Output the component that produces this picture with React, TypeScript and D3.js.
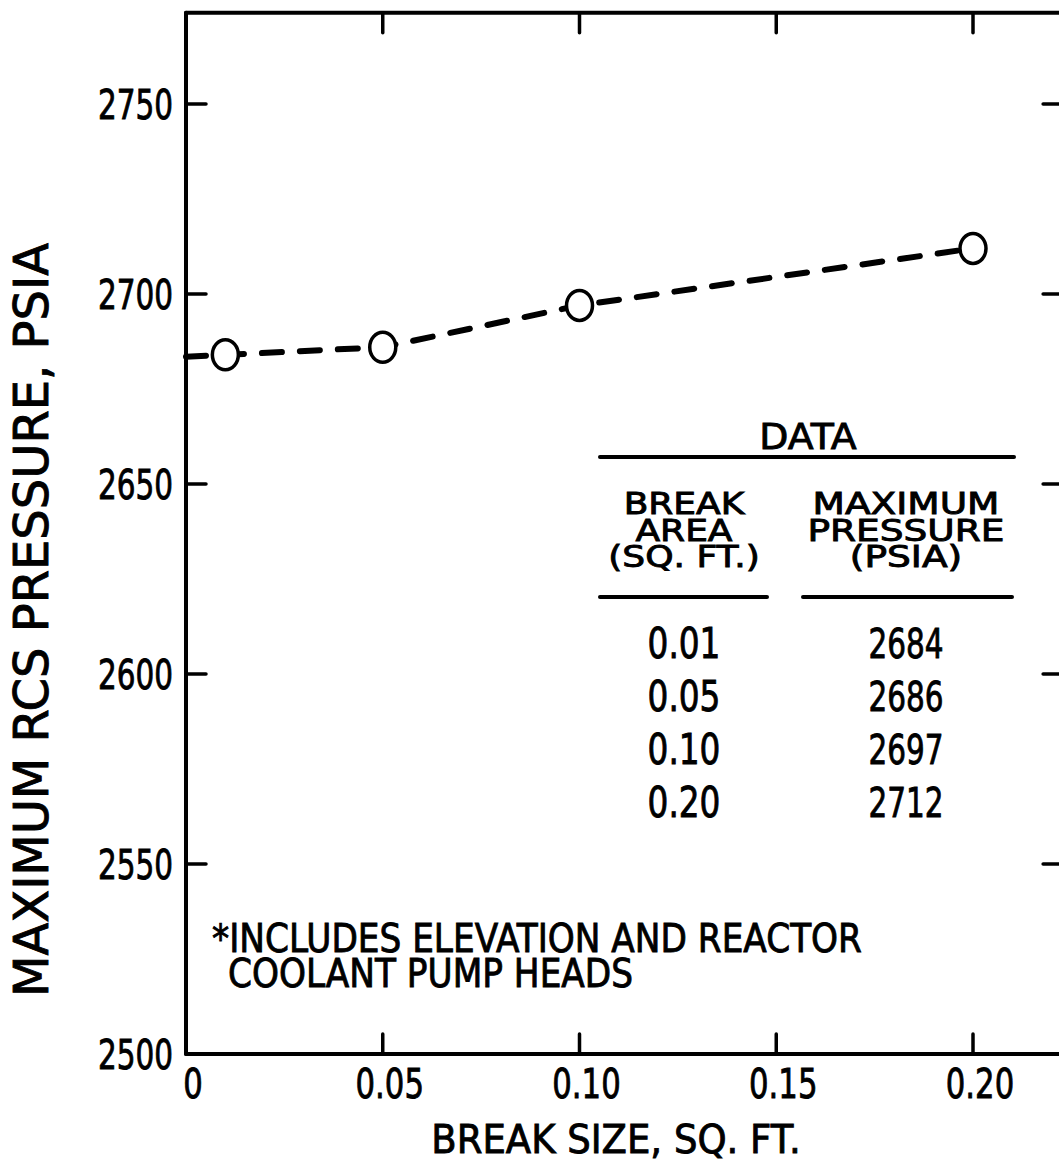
import React from 'react';
import * as d3 from 'd3';

// values from the DATA table
const breakArea = [0.01, 0.05, 0.1, 0.2];
const maxPressure = [2684, 2686, 2697, 2712];
const areaLabels = ['0.01', '0.05', '0.10', '0.20'];

// dashed curve, starting at the left axis
const curveArea = [0, 0.01, 0.05, 0.1, 0.2];
const curvePressure = [2683.5, 2684, 2686, 2697, 2712];

const xTicks = [0, 0.05, 0.1, 0.15, 0.2];
const xTickLabels = ['0', '0.05', '0.10', '0.15', '0.20'];
const yTicks = [2500, 2550, 2600, 2650, 2700, 2750];

const headerArea = ['BREAK', 'AREA', '(SQ. FT.)'];
const headerPressure = ['MAXIMUM', 'PRESSURE', '(PSIA)'];
const noteLines = ['*INCLUDES ELEVATION AND REACTOR', 'COOLANT PUMP HEADS'];

const W = 1059;
const H = 1166;
const FONT = "'DejaVu Sans', sans-serif";

type LabelProps = {
  x: number;
  y: number;
  size: number;
  sx?: number;
  anchor?: 'start' | 'middle' | 'end';
  rotate?: number;
  children: React.ReactNode;
};

// lettering on the original is tall and narrow, so squeeze horizontally
const Label = ({ x, y, size, sx = 0.8, anchor = 'middle', rotate = 0, children }: LabelProps) => (
  <text
    transform={`translate(${x},${y}) rotate(${rotate}) scale(${sx},1)`}
    fontSize={size}
    fontFamily={FONT}
    textAnchor={anchor}
    fill="#000"
    stroke="#000"
    strokeWidth={0.9}
  >
    {children}
  </text>
);

export default function App() {
  const x = d3.scaleLinear().domain([0, 0.2]).range([186, 973]);
  const y = d3.scaleLinear().domain([2500, 2750]).range([1054, 104]);

  // frame runs a little past the last ticks (right edge is cut off in the scan)
  const left = x(0);
  const right = x(0.2229);
  const top = y(2774);
  const bottom = y(2500);
  const tick = 20;

  const line = d3
    .line<number>()
    .x((d) => x(d))
    .y((_, i) => y(curvePressure[i]))
    .curve(d3.curveLinear);

  // table layout
  const colA = 684;
  const colP = 906;
  const rowStep = 53;
  const headStep = 26.5;

  return (
    <svg
      width={W}
      height={H}
      style={{ position: 'absolute', left: 0, top: 0, background: '#fff' }}
    >
      <rect width={W} height={H} fill="#fff" />

      {/* frame */}
      <g stroke="#000" strokeWidth={4} fill="none" strokeLinecap="round">
        <line x1={left} y1={top} x2={left} y2={bottom} />
        <line x1={left} y1={top} x2={right} y2={top} />
        <line x1={left} y1={bottom} x2={right} y2={bottom} />
        <line x1={right} y1={top} x2={right} y2={bottom} />
      </g>

      {/* ticks, all pointing inward */}
      <g stroke="#000" strokeWidth={3.5} strokeLinecap="round">
        {xTicks.slice(1).map((t) => (
          <g key={`xt${t}`}>
            <line x1={x(t)} y1={bottom} x2={x(t)} y2={bottom - tick} />
            <line x1={x(t)} y1={top} x2={x(t)} y2={top + tick} />
          </g>
        ))}
        {yTicks.slice(1).map((t) => (
          <g key={`yt${t}`}>
            <line x1={left} y1={y(t)} x2={left + tick} y2={y(t)} />
            <line x1={right} y1={y(t)} x2={right - tick} y2={y(t)} />
          </g>
        ))}
      </g>

      {/* tick labels */}
      {yTicks.map((t) => (
        <Label key={`yl${t}`} x={173} y={y(t) + 15} size={41} sx={0.72} anchor="end">
          {t}
        </Label>
      ))}
      {xTicks.map((t, i) => (
        <Label key={`xl${t}`} x={x(t) + 7} y={1098} size={41} sx={0.75}>
          {xTickLabels[i]}
        </Label>
      ))}

      {/* axis titles */}
      <Label x={616} y={1153} size={39} sx={0.95}>
        BREAK SIZE, SQ. FT.
      </Label>
      <Label x={48} y={620} size={48} sx={1} rotate={-90}>
        MAXIMUM RCS PRESSURE, PSIA
      </Label>

      {/* dashed curve */}
      <path
        d={line(curveArea) ?? ''}
        fill="none"
        stroke="#000"
        strokeWidth={6}
        strokeDasharray="20 18"
        strokeLinecap="round"
      />
      {breakArea.map((a, i) => (
        <ellipse
          key={`pt${a}`}
          cx={x(a)}
          cy={y(maxPressure[i])}
          rx={13}
          ry={15}
          fill="#fff"
          stroke="#000"
          strokeWidth={3.5}
        />
      ))}

      {/* data table */}
      <Label x={808} y={449} size={36} sx={1.05}>
        DATA
      </Label>
      <g stroke="#000" strokeWidth={4} strokeLinecap="round">
        <line x1={600} y1={457} x2={1014} y2={457} />
        <line x1={600} y1={597} x2={767} y2={597} />
        <line x1={803} y1={597} x2={1012} y2={597} />
      </g>
      {headerArea.map((s, i) => (
        <Label key={`ha${i}`} x={colA} y={514 + i * headStep} size={30} sx={1.2}>
          {s}
        </Label>
      ))}
      {headerPressure.map((s, i) => (
        <Label key={`hp${i}`} x={colP} y={514 + i * headStep} size={30} sx={1.25}>
          {s}
        </Label>
      ))}
      {areaLabels.map((s, i) => (
        <Label key={`ra${i}`} x={colA} y={658 + i * rowStep} size={42} sx={0.78}>
          {s}
        </Label>
      ))}
      {maxPressure.map((p, i) => (
        <Label key={`rp${i}`} x={colP} y={658 + i * rowStep} size={41} sx={0.72}>
          {p}
        </Label>
      ))}

      {/* footnote */}
      <Label x={212} y={952} size={39} sx={0.88} anchor="start">
        {noteLines[0]}
      </Label>
      <Label x={228} y={987} size={39} sx={0.88} anchor="start">
        {noteLines[1]}
      </Label>
    </svg>
  );
}
